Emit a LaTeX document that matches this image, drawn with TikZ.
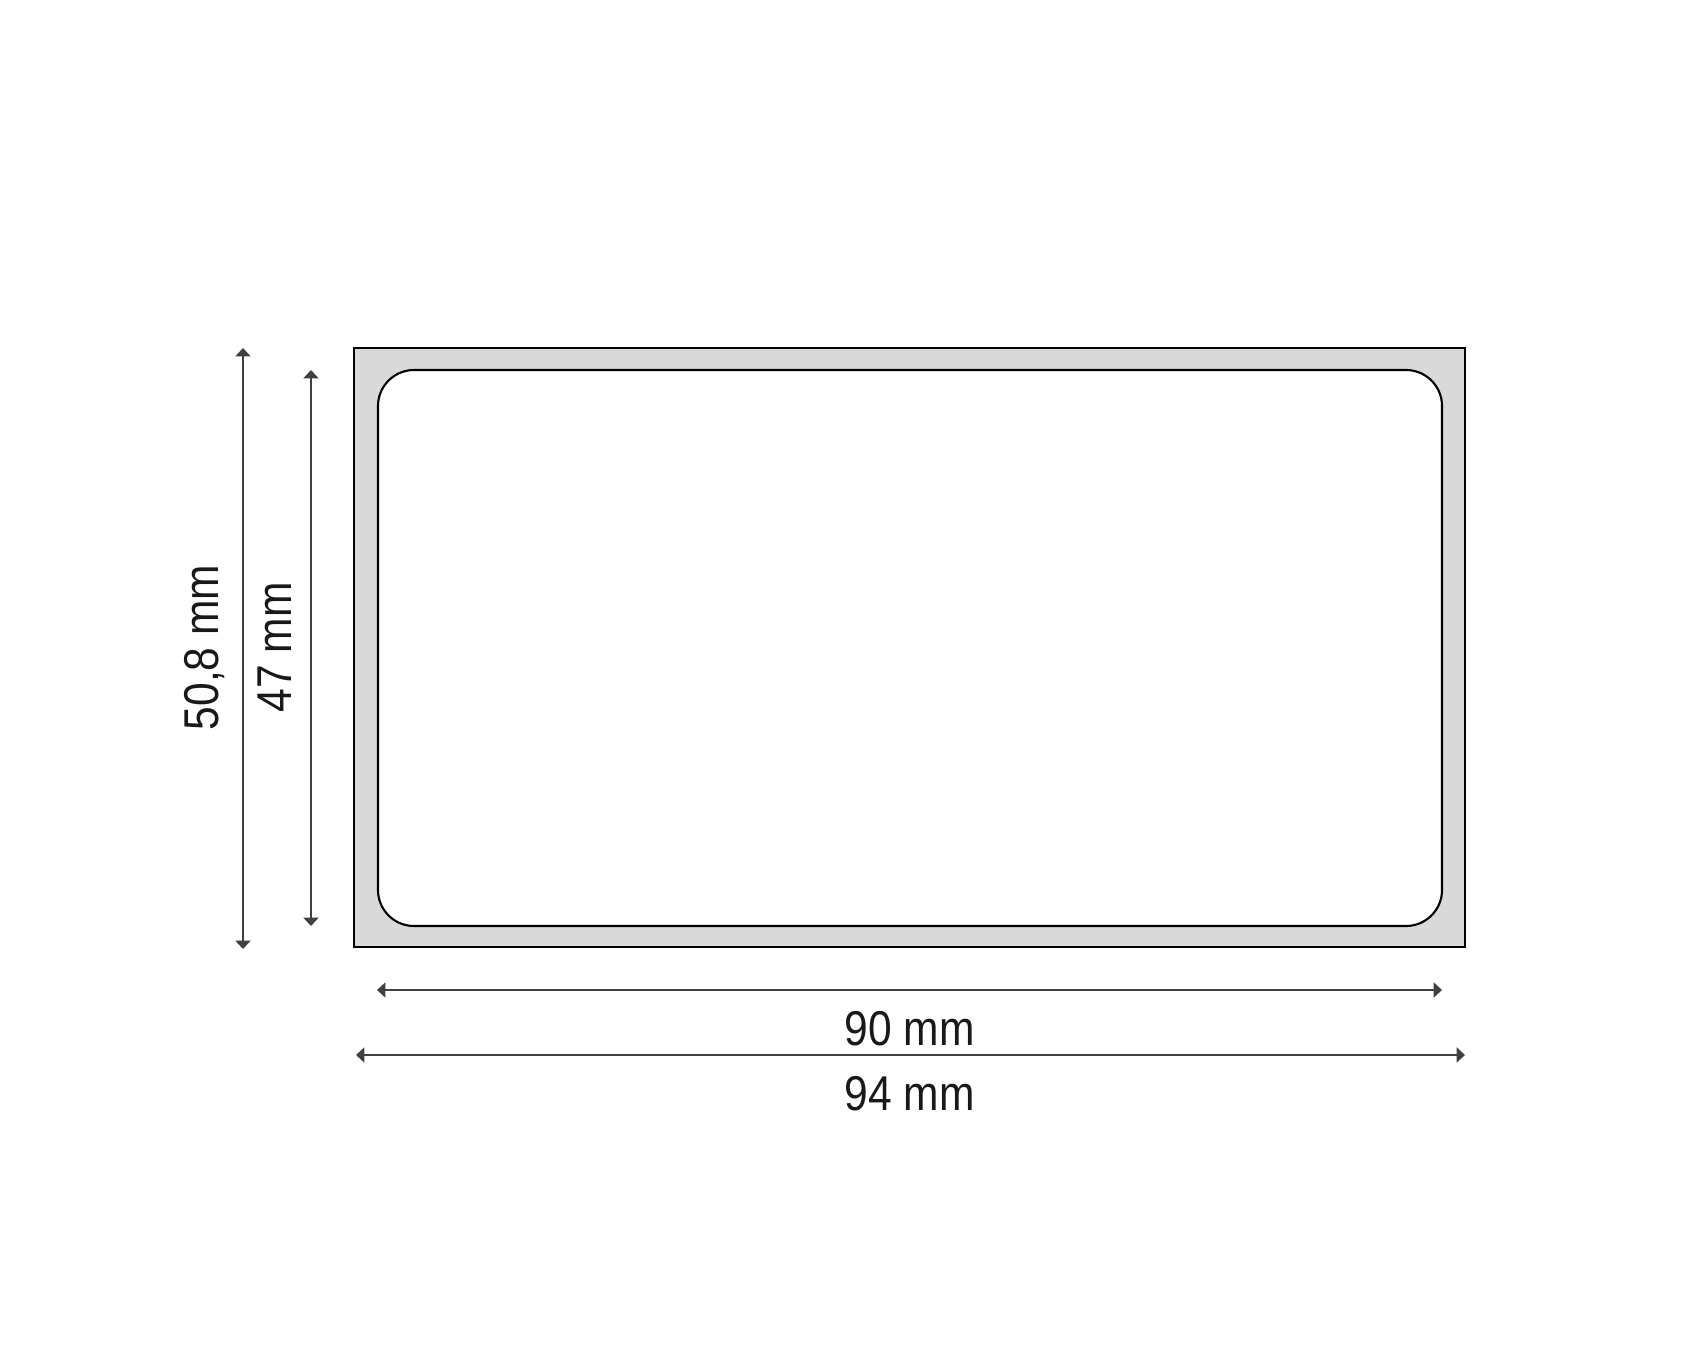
\documentclass[tikz,border=0pt]{standalone}
\usepackage{fontspec}
\usetikzlibrary{arrows.meta}
\newfontfamily\dimfont[FakeStretch=0.87]{Liberation Sans}
\definecolor{linergray}{HTML}{DAD9DA}
\definecolor{dimgray}{HTML}{404040}
\tikzset{
  dimline/.style={{Triangle[width=4.3pt,length=2.4pt]}-{Triangle[width=4.3pt,length=2.4pt]}, draw=dimgray, line width=0.55pt},
  dimlabel/.style={font=\dimfont\fontsize{13.9}{16}\selectfont, inner sep=0pt, text=black!90, anchor=base}
}
\begin{document}
\begin{tikzpicture}[x=0.01cm,y=-0.01cm]
\useasboundingbox (0,0) rectangle (1686,1349);
% liner and label
\draw[line width=0.65pt, fill=linergray] (354,348) coordinate (linerTL) rectangle (1465,947) coordinate (linerBR);
\draw[line width=0.6pt, fill=white, rounded corners=0.36cm] (378,370) coordinate (labelTL) rectangle (1442,926) coordinate (labelBR);
% height
\coordinate (hA) at (243,348); \coordinate (hB) at (243,949);
\coordinate (hC) at (311,370); \coordinate (hD) at (311,926);
\draw[dimline] (hA)--(hB);
\draw[dimline] (hC)--(hD);
\node[dimlabel, rotate=90] (hOuter) at (218,647.5){50,8 mm};
\node[dimlabel, rotate=90] (hInner) at (291,647.5){47 mm};
% width
\coordinate (wA) at (377,990); \coordinate (wB) at (1442,990);
\coordinate (wC) at (356,1055); \coordinate (wD) at (1465,1055);
\draw[dimline] (wA)--(wB);
\draw[dimline] (wC)--(wD);
\node[dimlabel] (wInner) at (909.5,1045){90 mm};
\node[dimlabel] (wOuter) at (909.5,1110){94 mm};
\end{tikzpicture}
\end{document}
